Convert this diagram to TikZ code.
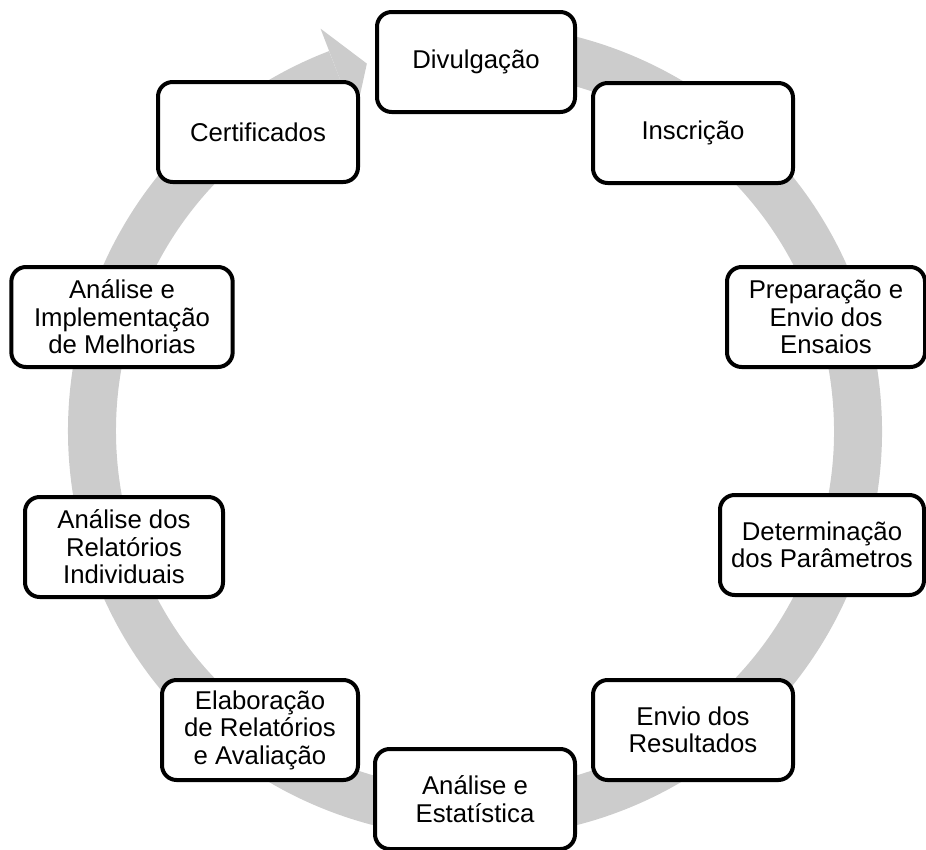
\documentclass[tikz,border=0pt]{standalone}
\usepackage{fontspec}
\setmainfont{Liberation Sans}
\begin{document}
\begin{tikzpicture}[x=0.75pt,y=-0.75pt,
  stage/.style={draw=black, line width=3pt, rounded corners=11pt, fill=white,
    minimum height=75pt, align=center, inner sep=2pt,
    font=\fontsize{19.3}{20.6}\selectfont},
  ringgray/.style={fill={rgb,255:red,204;green,204;blue,204}}]
\useasboundingbox (0,0) rectangle (926,850);
\coordinate (c) at (475,431);
% circular arrow running clockwise
\begin{scope}[shift={(c)}, x=0.75pt, y=0.75pt]
  \draw[draw={rgb,255:red,204;green,204;blue,204}, line width=36pt, line cap=butt]
    (97:383) arc[start angle=97, end angle=-249, radius=383];
  \fill[ringgray] (111:431) -- (106.4:383) -- (111:335) -- cycle;
\end{scope}
% stages of the cycle
\node[stage, minimum width=148.5pt] (div)  at (476,62)  {Divulgação};
\node[stage, minimum width=150pt]   (ins)  at (693,133) {Inscrição};
\node[stage, minimum width=148.5pt] (prep) at (826,317) {Preparação e\\Envio dos\\Ensaios};
\node[stage, minimum width=153pt]   (det)  at (822,545) {Determinação\\dos Parâmetros};
\node[stage, minimum width=150pt]   (env)  at (693,730) {Envio dos\\Resultados};
\node[stage, minimum width=150pt]   (est)  at (475,799) {Análise e\\Estatística};
\node[stage, minimum width=147pt]   (ela)  at (260,730) {Elaboração\\de Relatórios\\e Avaliação};
\node[stage, minimum width=148.5pt] (rel)  at (124,547) {Análise dos\\Relatórios\\Individuais};
\node[stage, minimum width=166pt]   (mel)  at (122,317) {Análise e\\Implementação\\de Melhorias};
\node[stage, minimum width=150pt]   (cert) at (258,132) {Certificados};
\end{tikzpicture}
\end{document}
